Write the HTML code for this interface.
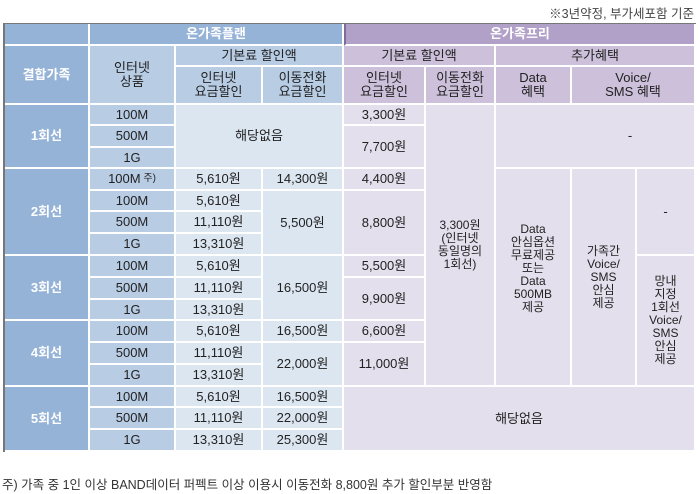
<!DOCTYPE html>
<html><head><meta charset="utf-8"><style>
body{margin:0;width:700px;height:494px;background:#fff;position:relative;overflow:hidden;font-family:"Liberation Sans","Noto Sans CJK KR","NanumGothic",sans-serif;color:#222;}
.c{position:absolute;box-sizing:border-box;display:flex;align-items:center;justify-content:center;text-align:center;font-size:13px;line-height:14px;border-right:2px solid #fff;border-bottom:2px solid #fff;}
.hb{background:#95b3d7;color:#fff;font-weight:bold;}
.hp{background:#b1a0c7;color:#fff;font-weight:bold;}
.lb{background:#b8cce4;}
.vb{background:#dce6f1;}
.lp{background:#ccc0da;}
.vp{background:#e4dfec;}
.s{font-size:12px;line-height:13px;}
</style></head><body>
<div style="position:absolute;right:6px;top:3px;font-size:12.5px;color:#444;">※3년약정, 부가세포함 기준</div>
<div style="position:absolute;left:3px;top:23px;width:2px;height:429px;background:#777;"></div>
<div style="position:absolute;left:4px;top:23px;width:692px;height:1px;background:#777;"></div>
<div class="c hb" style="left:5px;top:24px;width:85px;height:22px;"></div>
<div class="c hb" style="left:90px;top:24px;width:254px;height:22px;">온가족플랜</div>
<div class="c hp" style="left:344px;top:24px;width:352px;height:22px;border-left:2px solid #7a6d96;">온가족프리</div>
<div class="c hb" style="left:5px;top:46px;width:85px;height:59px;">결합가족</div>
<div class="c lb" style="left:90px;top:46px;width:86px;height:59px;">인터넷<br>상품</div>
<div class="c lb" style="left:176px;top:46px;width:168px;height:21px;">기본료 할인액</div>
<div class="c lb" style="left:176px;top:67px;width:87px;height:38px;">인터넷<br>요금할인</div>
<div class="c lb" style="left:263px;top:67px;width:81px;height:38px;">이동전화<br>요금할인</div>
<div class="c lp" style="left:344px;top:46px;width:152px;height:21px;">기본료 할인액</div>
<div class="c lp" style="left:496px;top:46px;width:200px;height:21px;">추가혜택</div>
<div class="c lp" style="left:344px;top:67px;width:82px;height:38px;">인터넷<br>요금할인</div>
<div class="c lp" style="left:426px;top:67px;width:70px;height:38px;">이동전화<br>요금할인</div>
<div class="c lp" style="left:496px;top:67px;width:76px;height:38px;">Data<br>혜택</div>
<div class="c lp" style="left:572px;top:67px;width:124px;height:38px;">Voice/<br>SMS 혜택</div>
<div class="c hb" style="left:5px;top:105px;width:85px;height:64px;">1회선</div>
<div class="c hb" style="left:5px;top:169px;width:85px;height:87px;">2회선</div>
<div class="c hb" style="left:5px;top:256px;width:85px;height:65px;">3회선</div>
<div class="c hb" style="left:5px;top:321px;width:85px;height:66px;">4회선</div>
<div class="c hb" style="left:5px;top:387px;width:85px;height:65px;">5회선</div>
<div class="c lb" style="left:90px;top:105px;width:86px;height:21px;">100M</div>
<div class="c lb" style="left:90px;top:126px;width:86px;height:22px;">500M</div>
<div class="c lb" style="left:90px;top:148px;width:86px;height:21px;">1G</div>
<div class="c lb" style="left:90px;top:169px;width:86px;height:22px;">100M <span style="font-size:10px">&nbsp;주)</span></div>
<div class="c lb" style="left:90px;top:191px;width:86px;height:21px;">100M</div>
<div class="c lb" style="left:90px;top:212px;width:86px;height:22px;">500M</div>
<div class="c lb" style="left:90px;top:234px;width:86px;height:22px;">1G</div>
<div class="c lb" style="left:90px;top:256px;width:86px;height:22px;">100M</div>
<div class="c lb" style="left:90px;top:278px;width:86px;height:22px;">500M</div>
<div class="c lb" style="left:90px;top:300px;width:86px;height:21px;">1G</div>
<div class="c lb" style="left:90px;top:321px;width:86px;height:22px;">100M</div>
<div class="c lb" style="left:90px;top:343px;width:86px;height:22px;">500M</div>
<div class="c lb" style="left:90px;top:365px;width:86px;height:22px;">1G</div>
<div class="c lb" style="left:90px;top:387px;width:86px;height:21px;">100M</div>
<div class="c lb" style="left:90px;top:408px;width:86px;height:22px;">500M</div>
<div class="c lb" style="left:90px;top:430px;width:86px;height:22px;">1G</div>
<div class="c vb" style="left:176px;top:105px;width:168px;height:64px;">해당없음</div>
<div class="c vb" style="left:176px;top:169px;width:87px;height:22px;">5,610원</div>
<div class="c vb" style="left:263px;top:169px;width:81px;height:22px;">14,300원</div>
<div class="c vb" style="left:176px;top:191px;width:87px;height:21px;">5,610원</div>
<div class="c vb" style="left:176px;top:212px;width:87px;height:22px;">11,110원</div>
<div class="c vb" style="left:176px;top:234px;width:87px;height:22px;">13,310원</div>
<div class="c vb" style="left:263px;top:191px;width:81px;height:65px;">5,500원</div>
<div class="c vb" style="left:176px;top:256px;width:87px;height:22px;">5,610원</div>
<div class="c vb" style="left:176px;top:278px;width:87px;height:22px;">11,110원</div>
<div class="c vb" style="left:176px;top:300px;width:87px;height:21px;">13,310원</div>
<div class="c vb" style="left:263px;top:256px;width:81px;height:65px;">16,500원</div>
<div class="c vb" style="left:176px;top:321px;width:87px;height:22px;">5,610원</div>
<div class="c vb" style="left:263px;top:321px;width:81px;height:22px;">16,500원</div>
<div class="c vb" style="left:176px;top:343px;width:87px;height:22px;">11,110원</div>
<div class="c vb" style="left:176px;top:365px;width:87px;height:22px;">13,310원</div>
<div class="c vb" style="left:263px;top:343px;width:81px;height:44px;">22,000원</div>
<div class="c vb" style="left:176px;top:387px;width:87px;height:21px;">5,610원</div>
<div class="c vb" style="left:263px;top:387px;width:81px;height:21px;">16,500원</div>
<div class="c vb" style="left:176px;top:408px;width:87px;height:22px;">11,110원</div>
<div class="c vb" style="left:263px;top:408px;width:81px;height:22px;">22,000원</div>
<div class="c vb" style="left:176px;top:430px;width:87px;height:22px;">13,310원</div>
<div class="c vb" style="left:263px;top:430px;width:81px;height:22px;">25,300원</div>
<div class="c vp" style="left:344px;top:105px;width:82px;height:21px;">3,300원</div>
<div class="c vp" style="left:344px;top:126px;width:82px;height:43px;">7,700원</div>
<div class="c vp" style="left:344px;top:169px;width:82px;height:22px;">4,400원</div>
<div class="c vp" style="left:344px;top:191px;width:82px;height:65px;">8,800원</div>
<div class="c vp" style="left:344px;top:256px;width:82px;height:22px;">5,500원</div>
<div class="c vp" style="left:344px;top:278px;width:82px;height:43px;">9,900원</div>
<div class="c vp" style="left:344px;top:321px;width:82px;height:22px;">6,600원</div>
<div class="c vp" style="left:344px;top:343px;width:82px;height:44px;">11,000원</div>
<div class="c vp s" style="left:426px;top:105px;width:70px;height:282px;">3,300원<br>(인터넷<br>동일명의<br>1회선)</div>
<div class="c vp" style="left:496px;top:105px;width:200px;height:64px;padding-left:70px;">-</div>
<div class="c vp s" style="left:496px;top:169px;width:76px;height:218px;padding-bottom:18px;">Data<br>안심옵션<br>무료제공<br>또는<br>Data<br>500MB<br>제공</div>
<div class="c vp s" style="left:572px;top:169px;width:65px;height:218px;">가족간<br>Voice/<br>SMS<br>안심<br>제공</div>
<div class="c vp" style="left:637px;top:169px;width:59px;height:87px;">-</div>
<div class="c vp s" style="left:637px;top:256px;width:59px;height:131px;">망내<br>지정<br>1회선<br>Voice/<br>SMS<br>안심<br>제공</div>
<div class="c vp" style="left:344px;top:387px;width:352px;height:65px;">해당없음</div>
<div style="position:absolute;left:2px;top:474px;font-size:12.5px;color:#333;">주) 가족 중 1인 이상 BAND데이터 퍼펙트 이상 이용시 이동전화 8,800원 추가 할인부분 반영함</div>
</body></html>
